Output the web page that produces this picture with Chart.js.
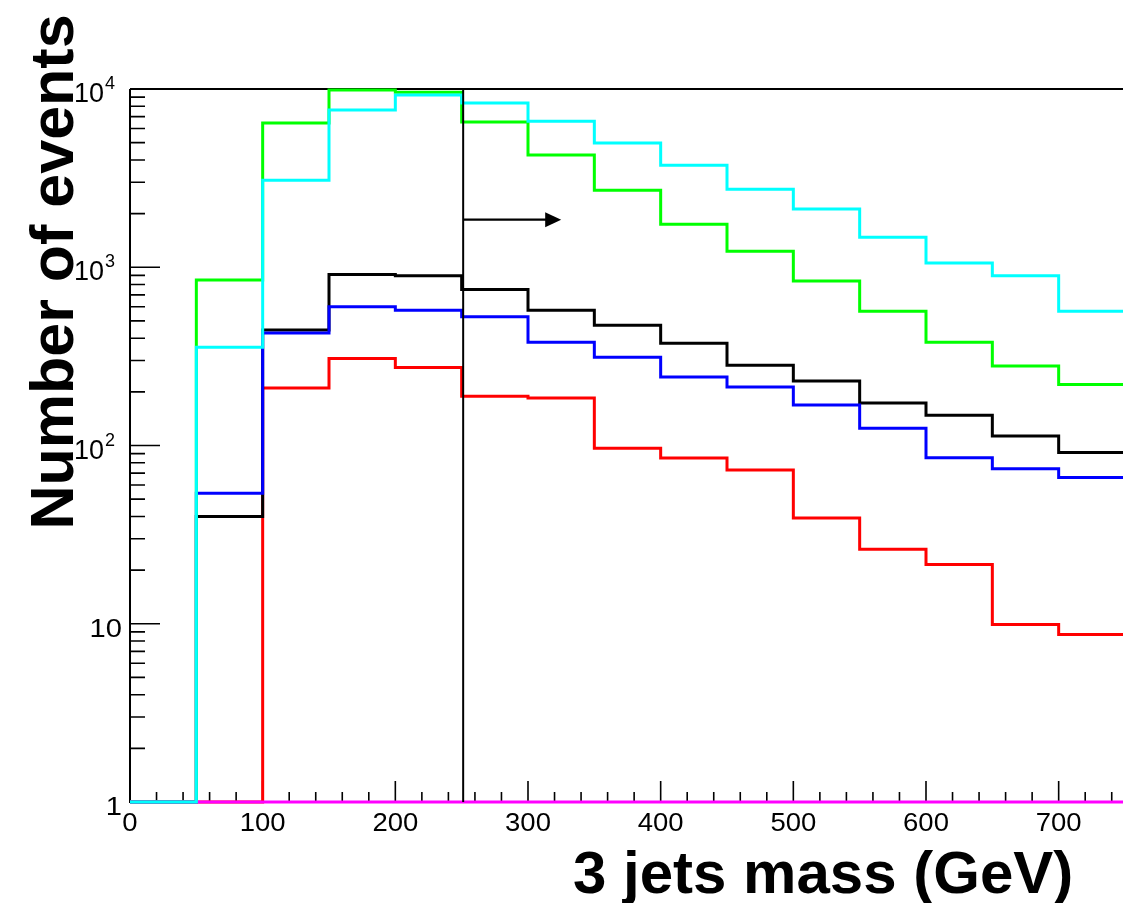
<!DOCTYPE html>
<html><head><meta charset="utf-8">
<script src="https://cdn.jsdelivr.net/npm/chart.js@4"></script>
<style>html,body{margin:0;padding:0;background:#fff;overflow:hidden;width:1123px;height:903px}canvas{display:block}</style>
</head><body><canvas id="c" width="1126" height="903"></canvas>
<script>
// ---- data ----
const binEdges = [0,50,100,150,200,250,300,350,400,450,500,550,600,650,700,750];
const greenValues   = [1, 847, 6440, 9870, 9600, 6530, 4260, 2700, 1740, 1230, 836, 567, 380, 279, 220];
const cyanValues    = [1, 356, 3080, 7620, 9240, 8340, 6600, 4980, 3740, 2740, 2120, 1475, 1055, 896, 567];
const blackValues   = [1, 40, 444, 911, 895, 750, 573, 472, 375, 282, 230, 173, 148, 113, 91.4];
const blueValues    = [1, 54, 428, 600, 574, 527, 380, 313, 242, 213, 169, 125, 85.3, 74, 66.1];
const redValues     = [1, 1, 210, 308, 274, 189, 185, 96.6, 85, 72.8, 39.2, 26.2, 21.5, 9.9, 8.7];
const magentaValues = [1, 1, 1, 1, 1, 1, 1, 1, 1, 1, 1, 1, 1, 1, 1];
const yTickValues = [1, 10, 100, 1000, 10000];
const yTickLabels = ['1', '10', '10^2', '10^3', '10^4'];
const xTickValues = [0, 100, 200, 300, 400, 500, 600, 700];
const xTickLabels = ['0', '100', '200', '300', '400', '500', '600', '700'];
const cutValue = 250;
const arrowEnd = 325;
const arrowLevel = 1850;
const yTitle = 'Number of events';
const xTitle = '3 jets mass (GeV)';

function histPoints(vals){
  const pts = vals.map((v,i)=>({x:binEdges[i], y:v}));
  pts.push({x:binEdges[binEdges.length-1], y:vals[vals.length-1]});
  return pts;
}
function ds(vals, color, order){
  return {data: histPoints(vals), borderColor: color, borderWidth: 3, stepped: true,
          pointRadius: 0, fill: false, tension: 0, order: order, clip: 4,
          borderJoinStyle: 'miter', borderCapStyle: 'butt'};
}

const FONT = '"Liberation Sans", Arial, Helvetica, sans-serif';

const rootAxes = {
  id: 'rootAxes',
  beforeDatasetsDraw(chart){
    const {ctx, chartArea: a, scales: {x, y}} = chart;
    ctx.save();
    ctx.strokeStyle = '#000';
    ctx.lineWidth = 2;
    ctx.beginPath();
    ctx.moveTo(a.left, a.top); ctx.lineTo(a.right, a.top);
    ctx.moveTo(a.left, a.top); ctx.lineTo(a.left, a.bottom); ctx.lineTo(a.right, a.bottom);
    ctx.stroke();
    ctx.lineWidth = 1.6;
    ctx.beginPath();
    for (let e = 0; e < 4; e++){
      for (let m = 1; m <= 9; m++){
        const v = m * Math.pow(10, e);
        const py = y.getPixelForValue(v);
        const len = (m === 1) ? 30 : 15;
        ctx.moveTo(a.left, py); ctx.lineTo(a.left + len, py);
      }
    }
    const pTop = y.getPixelForValue(10000);
    ctx.moveTo(a.left, pTop); ctx.lineTo(a.left + 30, pTop);
    for (let v = 20; v <= x.max; v += 20){
      const px = x.getPixelForValue(v);
      const len = (v % 100 === 0) ? 21 : 10;
      ctx.moveTo(px, a.bottom); ctx.lineTo(px, a.bottom - len);
    }
    ctx.stroke();

    // tick labels
    ctx.fillStyle = '#000';
    ctx.textBaseline = 'alphabetic';
    yTickLabels.forEach((lab, i) => {
      const py = y.getPixelForValue(yTickValues[i]);
      if (lab.indexOf('^') >= 0){
        const [base, exp] = lab.split('^');
        ctx.font = '27px ' + FONT;
        ctx.textAlign = 'right';
        ctx.fillText(base, 104, py + 13);
        ctx.font = '18px ' + FONT;
        ctx.textAlign = 'left';
        ctx.fillText(exp, 105, py);
      } else {
        ctx.save();
        ctx.translate(122, py + 13);
        ctx.scale(1.12, 1);
        ctx.font = '26px ' + FONT;
        ctx.textAlign = 'right';
        ctx.fillText(lab, 0, 0);
        ctx.restore();
      }
    });
    xTickLabels.forEach((lab, i) => {
      const px = x.getPixelForValue(xTickValues[i]);
      ctx.save();
      ctx.translate(px, a.bottom + 29);
      ctx.scale(1.1, 1);
      ctx.font = '25px ' + FONT;
      ctx.textAlign = 'center';
      ctx.fillText(lab, 0, 0);
      ctx.restore();
    });
    ctx.restore();
  },
  afterDatasetsDraw(chart){
    const {ctx, chartArea: a, scales: {x, y}} = chart;
    ctx.save();
    // cut line
    const cx = x.getPixelForValue(cutValue) + 1.5;
    ctx.strokeStyle = '#000';
    ctx.lineWidth = 2;
    ctx.beginPath();
    ctx.moveTo(cx, y.getPixelForValue(10000)); ctx.lineTo(cx, a.bottom);
    ctx.stroke();
    // arrow
    const ay = y.getPixelForValue(arrowLevel);
    const ax2 = x.getPixelForValue(arrowEnd);
    ctx.lineWidth = 2.2;
    ctx.beginPath();
    ctx.moveTo(cx, ay); ctx.lineTo(ax2 - 14, ay);
    ctx.stroke();
    ctx.fillStyle = '#000';
    ctx.beginPath();
    ctx.moveTo(ax2, ay); ctx.lineTo(ax2 - 16, ay - 7.5); ctx.lineTo(ax2 - 16, ay + 7.5); ctx.closePath();
    ctx.fill();
    // titles
    ctx.font = 'bold 61px ' + FONT;
    ctx.textBaseline = 'alphabetic';
    ctx.save();
    ctx.translate(73, 272);
    ctx.rotate(-Math.PI / 2);
    ctx.textAlign = 'center';
    ctx.fillText(yTitle, 0, 0);
    ctx.restore();
    ctx.font = 'bold 60px ' + FONT;
    ctx.textAlign = 'left';
    ctx.fillText(xTitle, 573, 893);
    ctx.restore();
  }
};

new Chart(document.getElementById('c'), {
  type: 'line',
  data: {
    datasets: [
      ds(cyanValues, '#00ffff', 0),
      ds(magentaValues, '#ff00ff', 1),
      ds(greenValues, '#00ff00', 2),
      ds(blueValues, '#0000ff', 3),
      ds(blackValues, '#000000', 4),
      ds(redValues, '#ff0000', 5)
    ]
  },
  options: {
    responsive: false,
    animation: false,
    layout: {padding: {left: 130, top: 89, right: 1, bottom: 101}},
    scales: {
      x: {type: 'linear', min: 0, max: 750, display: false},
      y: {type: 'logarithmic', min: 1, max: 10000, display: false}
    },
    plugins: {legend: {display: false}, tooltip: {enabled: false}}
  },
  plugins: [rootAxes]
});
</script>
</body></html>
